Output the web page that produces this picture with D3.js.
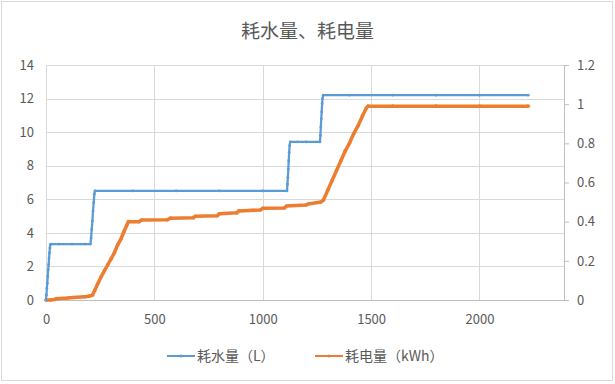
<!DOCTYPE html>
<html>
<head>
<meta charset="utf-8">
<script src="https://cdn.jsdelivr.net/npm/d3@7"></script>
<style>
  body { margin: 0; background: #fff; }
  svg { display: block; }
</style>
</head>
<body>
<svg id="chart"></svg>
<script>
// water (L), left axis
const waterPoints = [
  [0,0],[2,0.3],[4,0.7],[6,1.0],[8,1.4],[10,1.8],[12,2.1],[14,2.5],[16,2.8],[18,3.1],[20,3.3],[24,3.33],
  [60,3.33],[120,3.33],[180,3.33],[205,3.33],[208,3.7],[211,4.2],[214,4.7],[217,5.3],[220,5.8],[223,6.3],[226,6.5],
  [400,6.5],[600,6.5],[800,6.5],[1000,6.5],[1112,6.5],[1114,6.9],[1116,7.3],[1118,7.8],[1120,8.3],[1122,8.8],[1124,9.2],[1127,9.42],
  [1160,9.42],[1200,9.42],[1264,9.42],[1266,9.8],[1268,10.3],[1270,10.8],[1272,11.2],[1274,11.7],[1276,12.0],[1279,12.2],
  [1400,12.2],[1600,12.2],[1800,12.2],[2000,12.2],[2225,12.2]
];
// electricity (kWh), right axis
const elecPoints = [
  [0,0],[20,0],[40,0.003],[50,0.007],[100,0.01],[125,0.013],[180,0.016],[200,0.02],[214,0.024],
  [225,0.05],[240,0.085],[255,0.12],[270,0.15],[285,0.18],[300,0.21],[315,0.24],[330,0.28],[345,0.31],[360,0.35],[372,0.38],[380,0.40],
  [430,0.40],[440,0.408],[560,0.41],[575,0.418],[680,0.42],[690,0.428],[790,0.43],[800,0.44],[880,0.445],[890,0.455],
  [990,0.46],[1000,0.468],[1100,0.47],[1110,0.48],[1200,0.485],[1210,0.49],[1268,0.5],[1280,0.51],
  [1300,0.56],[1320,0.61],[1340,0.66],[1360,0.71],[1380,0.76],[1400,0.8],[1420,0.85],[1440,0.89],[1460,0.94],[1478,0.98],[1486,0.99],
  [1600,0.99],[1800,0.99],[2000,0.99],[2225,0.99]
];
const xTicks = [0, 500, 1000, 1500, 2000];
const yLeftTicks = [0, 2, 4, 6, 8, 10, 12, 14];
const yRightTicks = [0, 0.2, 0.4, 0.6, 0.8, 1, 1.2];
const seriesNames = ["耗水量（L）", "耗电量（kWh）"];
const chartTitle = "耗水量、耗电量";

const config = {
  width: 615, height: 384,
  margin: { left: 46, right: 51, top: 65, bottom: 84 },
  blue: "#5B9BD5", orange: "#ED7D31",
  font: "'Noto Sans CJK SC', 'Noto Sans', sans-serif",
  text: "#595959", grid: "#D9D9D9"
};

const svg = d3.select("#chart")
  .attr("width", config.width)
  .attr("height", config.height);

svg.append("rect")
  .attr("x", 1.5).attr("y", 1.5)
  .attr("width", config.width - 4).attr("height", config.height - 5)
  .attr("fill", "#fff").attr("stroke", config.grid);

const iw = config.width - config.margin.left - config.margin.right;
const ih = config.height - config.margin.top - config.margin.bottom;

const x = d3.scaleLinear().domain([0, 2390]).range([0, iw]);
const yL = d3.scaleLinear().domain([0, 14]).range([ih, 0]);
const yR = d3.scaleLinear().domain([0, 1.2]).range([ih, 0]);

const g = svg.append("g")
  .attr("transform", `translate(${config.margin.left},${config.margin.top})`);

// gridlines
g.append("g").selectAll("line").data(yLeftTicks).join("line")
  .attr("x1", 0).attr("x2", iw)
  .attr("y1", d => Math.round(yL(d)) + 0.5).attr("y2", d => Math.round(yL(d)) + 0.5)
  .attr("stroke", config.grid);
g.append("g").selectAll("line").data(xTicks).join("line")
  .attr("x1", d => Math.round(x(d)) + 0.5).attr("x2", d => Math.round(x(d)) + 0.5)
  .attr("y1", 0).attr("y2", ih)
  .attr("stroke", config.grid);

// axes
const axL = g.append("g")
  .call(d3.axisLeft(yL).tickValues(yLeftTicks).tickSize(0).tickPadding(12));
const axR = g.append("g").attr("transform", `translate(${iw},0)`)
  .call(d3.axisRight(yR).tickValues(yRightTicks).tickSize(5).tickPadding(8).tickFormat(d3.format("~g")));
const axB = g.append("g").attr("transform", `translate(0,${ih})`)
  .call(d3.axisBottom(x).tickValues(xTicks).tickSize(0).tickPadding(15).tickFormat(d3.format("d")));

[axL, axR, axB].forEach(a => {
  a.selectAll("text").attr("fill", config.text).style("font-size", "13px").style("font-family", config.font);
  a.selectAll("line").attr("stroke", "#BFBFBF");
});
axL.select(".domain").remove();
axB.select(".domain").attr("stroke", "#BFBFBF");
axR.select(".domain").attr("stroke", "#BFBFBF");

// series
const lineL = d3.line().x(d => x(d[0])).y(d => yL(d[1]));
const lineR = d3.line().x(d => x(d[0])).y(d => yR(d[1]));

g.append("path").datum(elecPoints)
  .attr("d", lineR).attr("fill", "none")
  .attr("stroke", config.orange).attr("stroke-width", 3.5).attr("stroke-linejoin", "round");
g.append("g").selectAll("circle").data(elecPoints).join("circle")
  .attr("cx", d => x(d[0])).attr("cy", d => yR(d[1])).attr("r", 1.8)
  .attr("fill", config.orange);

g.append("path").datum(waterPoints)
  .attr("d", lineL).attr("fill", "none")
  .attr("stroke", config.blue).attr("stroke-width", 2.25).attr("stroke-linejoin", "round");
g.append("g").selectAll("circle").data(waterPoints).join("circle")
  .attr("cx", d => x(d[0])).attr("cy", d => yL(d[1])).attr("r", 1.4)
  .attr("fill", config.blue);

// title
svg.append("text")
  .attr("x", config.width / 2).attr("y", 38)
  .attr("text-anchor", "middle")
  .attr("fill", config.text)
  .style("font-family", config.font).style("font-size", "19px")
  .text(chartTitle);

// legend
const legend = svg.append("g").attr("transform", "translate(0,356)");
const legendItems = [
  { name: seriesNames[0], color: config.blue, x: 167 },
  { name: seriesNames[1], color: config.orange, x: 315 }
];
legendItems.forEach(it => {
  legend.append("line")
    .attr("x1", it.x).attr("x2", it.x + 28).attr("y1", 0).attr("y2", 0)
    .attr("stroke", it.color).attr("stroke-width", 2);
  legend.append("circle").attr("cx", it.x + 14).attr("cy", 0).attr("r", 1.6).attr("fill", it.color);
  legend.append("text")
    .attr("x", it.x + 30).attr("y", 0).attr("dy", "0.35em")
    .attr("fill", config.text)
    .style("font-family", config.font).style("font-size", "14px")
    .text(it.name);
});
</script>
</body>
</html>
